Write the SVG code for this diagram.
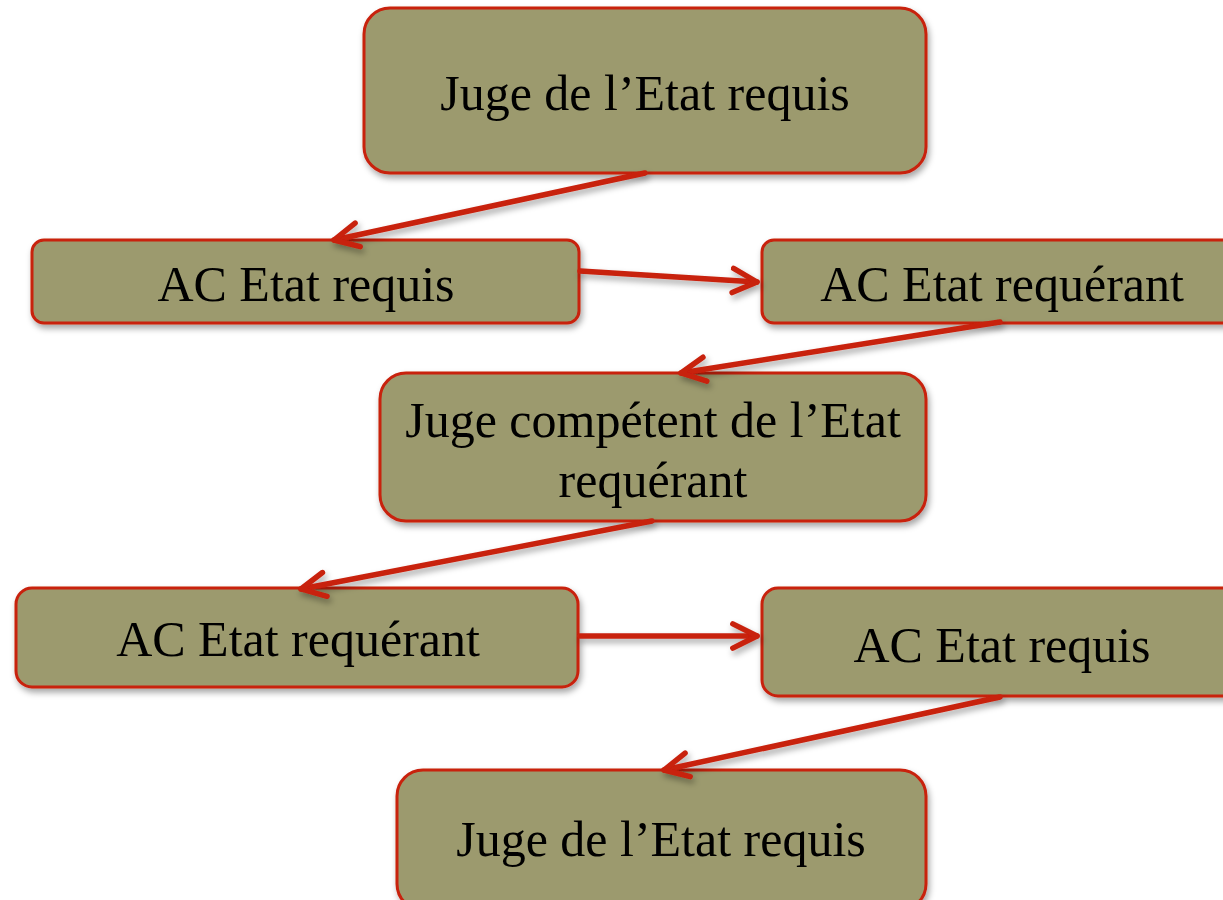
<svg xmlns="http://www.w3.org/2000/svg" width="1223" height="900" viewBox="0 0 1223 900">
<style>
.box{fill:#9c9a6e;stroke:#c8200c;stroke-width:3}
.t{font-family:"Liberation Serif","Times New Roman",serif;font-size:50px;fill:#000;text-anchor:middle}
.c{fill:none;stroke:#c8200c;stroke-width:5.5;stroke-linecap:round}
</style>
<defs>
<filter id="sh" x="-10%" y="-10%" width="120%" height="130%">
<feDropShadow dx="2" dy="4" stdDeviation="3" flood-color="#000" flood-opacity="0.35"/>
</filter>
<marker id="ah" viewBox="0 0 10 10" refX="9" refY="5" markerWidth="5.5" markerHeight="5.5" orient="auto" markerUnits="strokeWidth">
<path d="M1,1 L9,5 L1,9" fill="none" stroke="#c8200c" stroke-width="1.8" stroke-linecap="round" stroke-linejoin="round"/>
</marker>
</defs>
<rect width="1223" height="900" fill="#fff"/>
<g id="n1" filter="url(#sh)"><rect class="box" x="364" y="8" width="562" height="165" rx="26"/><text class="t" x="645" y="110">Juge de l’Etat requis</text></g>
<g id="n2" filter="url(#sh)"><rect class="box" x="32" y="240" width="547" height="83" rx="12"/><text class="t" x="306" y="301">AC Etat requis</text></g>
<g id="n3" filter="url(#sh)"><rect class="box" x="762" y="240" width="480" height="83" rx="12"/><text class="t" x="1002" y="301">AC Etat requérant</text></g>
<g id="n4" filter="url(#sh)"><rect class="box" x="380" y="373" width="546" height="148" rx="26"/><text class="t" x="653" y="437">Juge compétent de l’Etat</text><text class="t" x="653" y="497">requérant</text></g>
<g id="n5" filter="url(#sh)"><rect class="box" x="16" y="588" width="562" height="99" rx="16"/><text class="t" x="298" y="656">AC Etat requérant</text></g>
<g id="n6" filter="url(#sh)"><rect class="box" x="762" y="588" width="480" height="108" rx="16"/><text class="t" x="1002" y="662">AC Etat requis</text></g>
<g id="n7" filter="url(#sh)"><rect class="box" x="397" y="770" width="529" height="140" rx="26"/><text class="t" x="661" y="856">Juge de l’Etat requis</text></g>
<g id="connectors" filter="url(#sh)">
<line class="c" x1="645" y1="173" x2="334" y2="240" marker-end="url(#ah)"/>
<line class="c" x1="580" y1="271" x2="757" y2="282" marker-end="url(#ah)"/>
<line class="c" x1="1000" y1="322" x2="681" y2="373" marker-end="url(#ah)"/>
<line class="c" x1="652" y1="521" x2="301" y2="589" marker-end="url(#ah)"/>
<line class="c" x1="580" y1="636" x2="757" y2="636" marker-end="url(#ah)"/>
<line class="c" x1="1000" y1="697" x2="664" y2="770" marker-end="url(#ah)"/>
</g>
</svg>
